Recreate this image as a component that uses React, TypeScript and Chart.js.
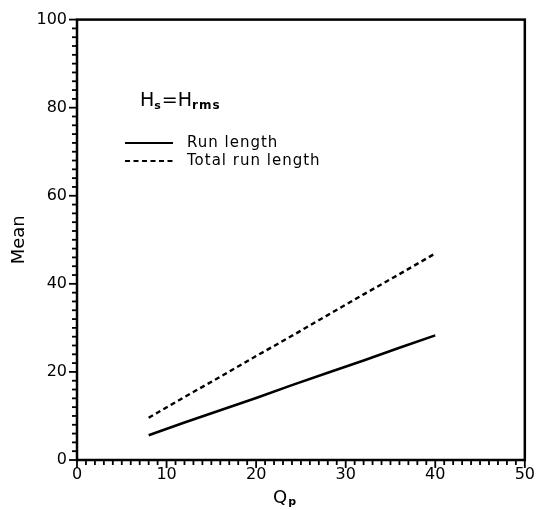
import React, { useEffect, useRef } from "react";
import { Chart, registerables } from "chart.js";

Chart.register(...registerables);

const qp = [8, 12, 16, 20, 24, 28, 32, 36, 40];
const runLength = [5.6, 8.5, 11.3, 14.1, 17.0, 19.8, 22.6, 25.5, 28.3];
const totalRunLength = [9.6, 14.3, 18.9, 23.6, 28.2, 32.9, 37.6, 42.2, 46.9];
const xTicks = [0, 10, 20, 30, 40, 50];
const yTicks = [0, 20, 40, 60, 80, 100];
const seriesLabels = ["Run length", "Total run length"];

const FONT = "'DejaVu Sans', sans-serif";

const decorPlugin = {
  id: "decor",
  afterDraw(chart: any) {
    const ctx = chart.ctx as CanvasRenderingContext2D;
    const { left, right, top, bottom } = chart.chartArea;
    const xs = chart.scales.x;
    const ys = chart.scales.y;
    ctx.save();
    ctx.strokeStyle = "#000";
    ctx.fillStyle = "#000";
    // frame
    ctx.lineWidth = 2.5;
    ctx.strokeRect(left, top, right - left, bottom - top);
    // ticks
    ctx.lineWidth = 1.8;
    for (let v = xs.min; v <= xs.max; v += 1) {
      const px = xs.getPixelForValue(v);
      const len = v % 10 === 0 ? 8 : 5;
      ctx.beginPath();
      ctx.moveTo(px, bottom);
      ctx.lineTo(px, bottom + len);
      ctx.stroke();
    }
    for (let v = ys.min; v <= ys.max; v += 2) {
      const py = ys.getPixelForValue(v);
      const len = v % 20 === 0 ? 8 : 5;
      ctx.beginPath();
      ctx.moveTo(left, py);
      ctx.lineTo(left - len, py);
      ctx.stroke();
    }
    // annotation H_s = H_rms
    ctx.textBaseline = "alphabetic";
    ctx.textAlign = "left";
    let x = 140;
    const by = 106;
    ctx.font = `19px ${FONT}`;
    ctx.fillText("H", x, by);
    x += ctx.measureText("H").width;
    ctx.font = `bold 11px ${FONT}`;
    ctx.fillText("s", x, by + 3);
    x += ctx.measureText("s").width + 1;
    ctx.font = `19px ${FONT}`;
    ctx.fillText("=H", x, by);
    x += ctx.measureText("=H").width;
    ctx.font = `bold 12px ${FONT}`;
    (ctx as any).letterSpacing = "1px";
    ctx.fillText("rms", x, by + 3);
    (ctx as any).letterSpacing = "0px";

    // legend
    const ds = chart.data.datasets;
    const rows = [143, 161];
    ds.forEach((d: any, i: number) => {
      ctx.lineWidth = 2.2;
      ctx.setLineDash(d.borderDash || []);
      ctx.beginPath();
      ctx.moveTo(125, rows[i]);
      ctx.lineTo(173, rows[i]);
      ctx.stroke();
      ctx.setLineDash([]);
      ctx.font = `15px ${FONT}`;
      (ctx as any).letterSpacing = "1px";
      ctx.textBaseline = "middle";
      ctx.fillText(d.label, 187, rows[i]);
      (ctx as any).letterSpacing = "0px";
    });

    // x title Q_p
    ctx.textBaseline = "alphabetic";
    ctx.font = `18px ${FONT}`;
    const qx = 273;
    ctx.fillText("Q", qx, 503);
    const qw = ctx.measureText("Q").width;
    ctx.font = `bold 11px ${FONT}`;
    ctx.fillText("p", qx + qw + 1, 505);
    ctx.restore();
  },
};

export default function App() {
  const ref = useRef<HTMLCanvasElement | null>(null);
  useEffect(() => {
    if (!ref.current) return;
    const chart = new Chart(ref.current, {
      type: "line",
      data: {
        datasets: [
          {
            label: seriesLabels[0],
            data: qp.map((q, i) => ({ x: q, y: runLength[i] })),
            borderColor: "#000",
            borderWidth: 2.6,
            pointRadius: 0,
            tension: 0,
            fill: false,
          },
          {
            label: seriesLabels[1],
            data: qp.map((q, i) => ({ x: q, y: totalRunLength[i] })),
            borderColor: "#000",
            borderWidth: 2.4,
            borderDash: [5, 3.5],
            pointRadius: 0,
            tension: 0,
            fill: false,
          },
        ],
      },
      options: {
        animation: false,
        responsive: false,
        devicePixelRatio: 1,
        layout: { padding: { left: 0, top: 10, right: 15, bottom: 0 } },
        plugins: { legend: { display: false }, tooltip: { enabled: false } },
        scales: {
          x: {
            type: "linear",
            min: 0,
            max: 50,
            afterBuildTicks: (s: any) => {
              s.ticks = xTicks.map((v) => ({ value: v }));
            },
            afterFit: (s: any) => {
              s.height = 50;
            },
            grid: { display: false, drawTicks: false },
            border: { display: false },
            ticks: {
              color: "#000",
              font: { family: FONT, size: 16 },
              padding: 5,
              maxRotation: 0,
              autoSkip: false,
            },
            title: { display: false },
          },
          y: {
            type: "linear",
            min: 0,
            max: 100,
            afterBuildTicks: (s: any) => {
              s.ticks = yTicks.map((v) => ({ value: v }));
            },
            afterFit: (s: any) => {
              s.width = 77;
            },
            grid: { display: false, drawTicks: false },
            border: { display: false },
            ticks: {
              color: "#000",
              font: { family: FONT, size: 16 },
              padding: 10,
              autoSkip: false,
            },
            title: {
              display: true,
              text: "Mean",
              color: "#000",
              font: { family: FONT, size: 18 },
              padding: { top: 9, bottom: 0 },
            },
          },
        },
      },
      plugins: [decorPlugin],
    });
    return () => chart.destroy();
  }, []);
  return (
    <div style={{ position: "fixed", left: 0, top: 0, width: 540, height: 510, background: "#fff" }}>
      <canvas ref={ref} width={540} height={510} style={{ width: 540, height: 510 }} />
    </div>
  );
}
